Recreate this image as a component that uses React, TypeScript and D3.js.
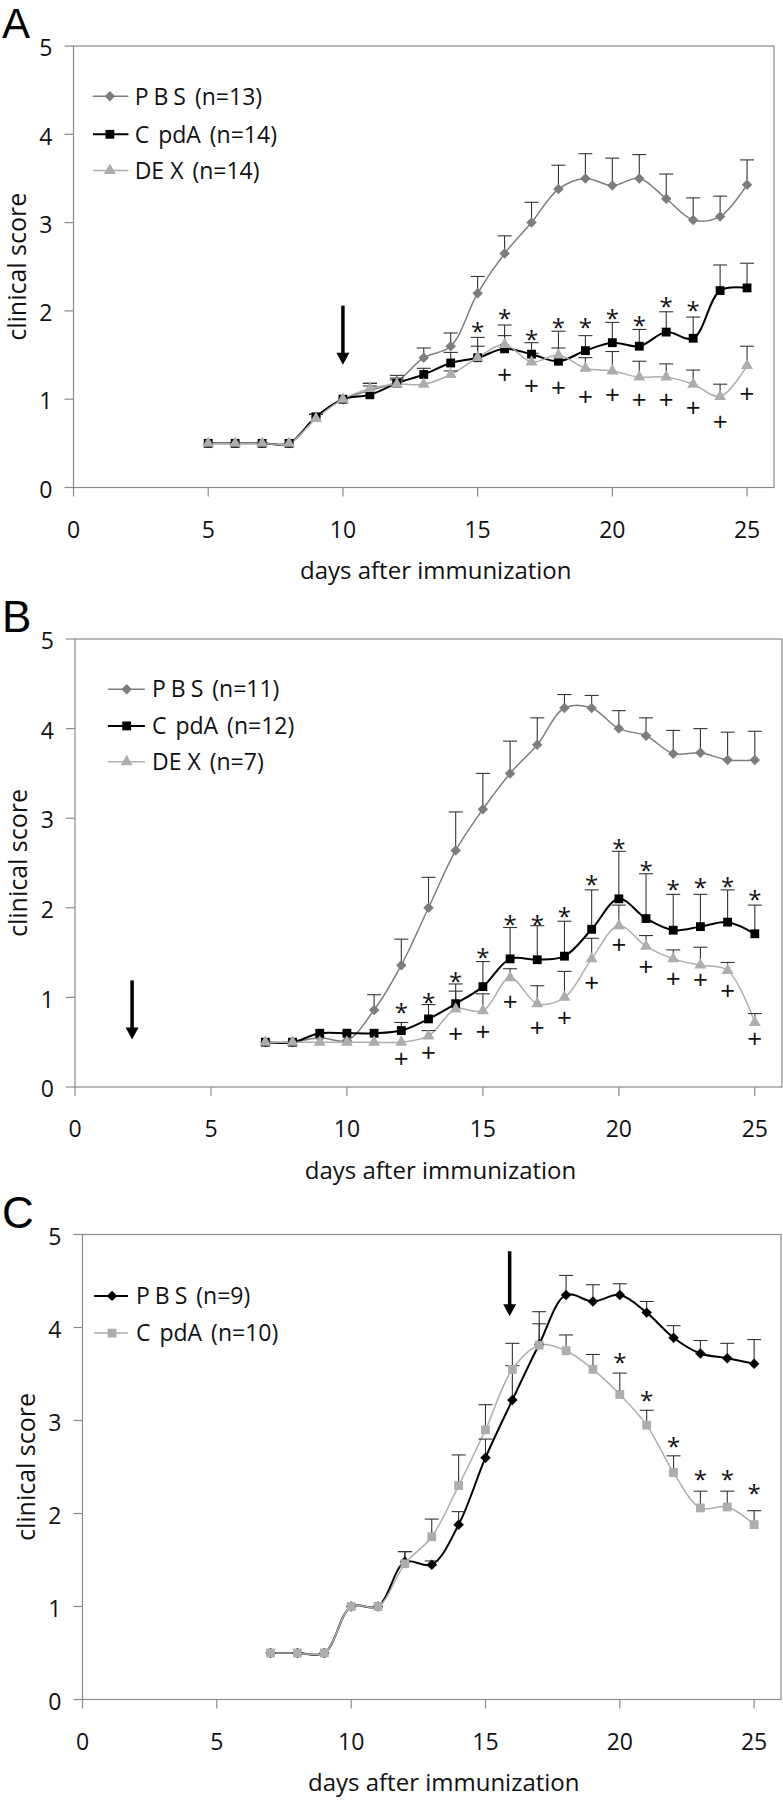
import React from 'react';
import * as d3 from 'd3';

// ---------------- DATA ----------------
const daysA = [5, 6, 7, 8, 9, 10, 11, 12, 13, 14, 15, 16, 17, 18, 19, 20, 21, 22, 23, 24, 25];
const pbsA = [0.5, 0.5, 0.5, 0.5, 0.8, 1.0, 1.1, 1.2, 1.47, 1.6, 2.2, 2.65, 3.0, 3.38, 3.5, 3.42, 3.5, 3.27, 3.03, 3.07, 3.43];
const pbsAErr = [0, 0, 0, 0, 0.03, 0, 0.08, 0.07, 0.11, 0.15, 0.19, 0.2, 0.23, 0.27, 0.28, 0.31, 0.27, 0.28, 0.25, 0.23, 0.28];
const cpdaA = [0.5, 0.5, 0.5, 0.5, 0.8, 1.0, 1.05, 1.18, 1.28, 1.41, 1.47, 1.57, 1.51, 1.43, 1.55, 1.64, 1.6, 1.76, 1.69, 2.23, 2.26];
const cpdaAErr = [0, 0, 0, 0, 0.03, 0, 0.1, 0.06, 0.07, 0.12, 0.23, 0.27, 0.13, 0.34, 0.17, 0.23, 0.19, 0.23, 0.24, 0.29, 0.28];
const dexA = [0.5, 0.5, 0.5, 0.5, 0.78, 1.0, 1.12, 1.17, 1.17, 1.28, 1.47, 1.62, 1.42, 1.5, 1.35, 1.32, 1.25, 1.25, 1.17, 1.03, 1.38];
const dexAErr = [0, 0, 0, 0, 0, 0, 0.06, 0.05, 0, 0.04, 0.13, 0.1, 0.1, 0.08, 0.12, 0.22, 0.18, 0.15, 0.16, 0.14, 0.22];
const starDaysA = [15, 16, 17, 18, 19, 20, 21, 22, 23];
const starYA = [1.82, 1.97, 1.73, 1.86, 1.86, 1.97, 1.89, 2.1, 2.06];
const plusDaysA = [16, 17, 18, 19, 20, 21, 22, 23, 24, 25];
const plusYA = [1.28, 1.15, 1.13, 1.03, 1.05, 1.0, 1.0, 0.91, 0.75, 1.06];

const daysB = [7, 8, 9, 10, 11, 12, 13, 14, 15, 16, 17, 18, 19, 20, 21, 22, 23, 24, 25];
const pbsB = [0.5, 0.5, 0.55, 0.52, 0.86, 1.36, 2.0, 2.64, 3.1, 3.5, 3.82, 4.23, 4.23, 4.0, 3.92, 3.72, 3.73, 3.65, 3.65];
const pbsBErr = [0, 0, 0, 0, 0.17, 0.29, 0.34, 0.43, 0.4, 0.36, 0.3, 0.15, 0.14, 0.2, 0.2, 0.26, 0.27, 0.31, 0.32];
const cpdaB = [0.5, 0.5, 0.6, 0.6, 0.6, 0.63, 0.76, 0.93, 1.12, 1.43, 1.42, 1.46, 1.76, 2.1, 1.88, 1.75, 1.79, 1.84, 1.71];
const cpdaBErr = [0, 0, 0, 0, 0, 0.09, 0.16, 0.22, 0.28, 0.35, 0.38, 0.39, 0.44, 0.53, 0.5, 0.4, 0.36, 0.36, 0.32];
const dexB = [0.5, 0.5, 0.5, 0.5, 0.5, 0.5, 0.57, 0.87, 0.85, 1.22, 0.93, 1.0, 1.43, 1.8, 1.57, 1.43, 1.36, 1.3, 0.72];
const dexBErr = [0, 0, 0, 0, 0, 0, 0.06, 0.2, 0.19, 0.1, 0.2, 0.29, 0.23, 0.23, 0.12, 0.1, 0.2, 0.09, 0.1];
const starDaysB = [12, 13, 14, 15, 16, 17, 18, 19, 20, 21, 22, 23, 24, 25];
const starYB = [0.88, 0.99, 1.23, 1.5, 1.87, 1.87, 1.96, 2.31, 2.71, 2.47, 2.26, 2.28, 2.29, 2.14];
const plusDaysB = [12, 13, 14, 15, 16, 17, 18, 19, 20, 21, 22, 23, 24, 25];
const plusYB = [0.32, 0.38, 0.59, 0.62, 0.95, 0.66, 0.77, 1.16, 1.59, 1.34, 1.21, 1.2, 1.07, 0.54];

const daysC = [7, 8, 9, 10, 11, 12, 13, 14, 15, 16, 17, 18, 19, 20, 21, 22, 23, 24, 25];
const pbsC = [0.5, 0.5, 0.5, 1.0, 1.0, 1.48, 1.45, 1.88, 2.6, 3.22, 3.82, 4.35, 4.28, 4.35, 4.16, 3.89, 3.72, 3.67, 3.61];
const pbsCErr = [0, 0, 0, 0, 0, 0.11, 0.04, 0.14, 0.2, 0.37, 0.22, 0.21, 0.18, 0.12, 0.12, 0.13, 0.14, 0.16, 0.26];
const cpdaC = [0.5, 0.5, 0.5, 1.0, 1.0, 1.46, 1.75, 2.3, 2.9, 3.55, 3.81, 3.75, 3.55, 3.28, 2.95, 2.44, 2.06, 2.07, 1.88];
const cpdaCErr = [0, 0, 0, 0, 0, 0.13, 0.19, 0.33, 0.27, 0.28, 0.36, 0.17, 0.16, 0.23, 0.16, 0.18, 0.18, 0.17, 0.15];
const starDaysC = [20, 21, 22, 23, 24, 25];
const starYC = [3.67, 3.27, 2.77, 2.42, 2.42, 2.27];

const xTicks = [0, 5, 10, 15, 20, 25];
const yTicks = [0, 1, 2, 3, 4, 5];
const xTitle = 'days after immunization';
const yTitle = 'clinical score';

// legend labels split into pieces (the original shows loose letter spacing in the group names)
const lblPbsA = ['P', 'B', 'S', ' (n=13)'];
const lblCpdaA = ['C', 'pdA', ' (n=14)'];
const lblDexA = ['DE', 'X', ' (n=14)'];
const lblPbsB = ['P', 'B', 'S', ' (n=11)'];
const lblCpdaB = ['C', 'pdA', ' (n=12)'];
const lblDexB = ['DE', 'X', ' (n=7)'];
const lblPbsC = ['P', 'B', 'S', ' (n=9)'];
const lblCpdaC = ['C', 'pdA', ' (n=10)'];

// ---------------- STYLE ----------------
const FONT = "'Open Sans', 'DejaVu Sans', sans-serif";
const LETTER_FONT = "'Liberation Sans', Arial, sans-serif";
const GRAY_DARK = '#7d7d7d';
const GRAY_LIGHT = '#adadad';
const BLACK = '#000000';
const FRAME = '#8a8a8a';
const GAP_PBS = [0, 5, 5, 3];
const GAP_CPDA = [0, 9, 3];
const GAP_DEX = [0, 6, 3];

// square rotated 45 degrees (equal width/height, as in the original)
const symbolRhomb: d3.SymbolType = {
  draw(ctx, size) {
    const r = Math.sqrt(size) / 2;
    ctx.moveTo(0, -r);
    ctx.lineTo(r, 0);
    ctx.lineTo(0, r);
    ctx.lineTo(-r, 0);
    ctx.closePath();
  },
};

type Series = {
  label: string[];
  gaps: number[];
  days: number[];
  mean: number[];
  err: number[];
  color: string;
  symbol: d3.SymbolType;
  size: number;
  width: number;
};

type PanelCfg = {
  letter: string;
  left: number;
  right: number;
  top: number;
  bottom: number;
  letterY: number;
  letterSize: number;
  titleDx: number;
  series: Series[];
  stars: { days: number[]; ys: number[] };
  plus: { days: number[]; ys: number[] };
  arrow: { day: number; from: number; to: number };
  legend: { lineFrom: number; lineTo: number; marker: number; text: number; rows: number[] };
};

const panels: PanelCfg[] = [
  {
    letter: 'A', left: 73.5, right: 774, top: 46, bottom: 487.5, letterY: 38, letterSize: 42, titleDx: 12,
    series: [
      { label: lblPbsA, gaps: GAP_PBS, days: daysA, mean: pbsA, err: pbsAErr, color: GRAY_DARK, symbol: symbolRhomb, size: 110, width: 1.5 },
      { label: lblCpdaA, gaps: GAP_CPDA, days: daysA, mean: cpdaA, err: cpdaAErr, color: BLACK, symbol: d3.symbolSquare, size: 78, width: 2 },
      { label: lblDexA, gaps: GAP_DEX, days: daysA, mean: dexA, err: dexAErr, color: GRAY_LIGHT, symbol: d3.symbolTriangle, size: 62, width: 1.5 },
    ],
    stars: { days: starDaysA, ys: starYA },
    plus: { days: plusDaysA, ys: plusYA },
    arrow: { day: 10, from: 2.06, to: 1.39 },
    legend: { lineFrom: 0.72, lineTo: 2.04, marker: 1.35, text: 2.27, rows: [4.43, 4.0, 3.59] },
  },
  {
    letter: 'B', left: 75, right: 782, top: 639, bottom: 1087, letterY: 632, letterSize: 44, titleDx: 12,
    series: [
      { label: lblPbsB, gaps: GAP_PBS, days: daysB, mean: pbsB, err: pbsBErr, color: GRAY_DARK, symbol: symbolRhomb, size: 110, width: 1.5 },
      { label: lblCpdaB, gaps: GAP_CPDA, days: daysB, mean: cpdaB, err: cpdaBErr, color: BLACK, symbol: d3.symbolSquare, size: 78, width: 2 },
      { label: lblDexB, gaps: GAP_DEX, days: daysB, mean: dexB, err: dexBErr, color: GRAY_LIGHT, symbol: d3.symbolTriangle, size: 62, width: 1.5 },
    ],
    stars: { days: starDaysB, ys: starYB },
    plus: { days: plusDaysB, ys: plusYB },
    arrow: { day: 2.1, from: 1.19, to: 0.53 },
    legend: { lineFrom: 1.21, lineTo: 2.57, marker: 1.9, text: 2.83, rows: [4.44, 4.03, 3.63] },
  },
  {
    letter: 'C', left: 82.5, right: 781, top: 1234.5, bottom: 1699.5, letterY: 1228, letterSize: 44, titleDx: 12,
    series: [
      { label: lblPbsC, gaps: GAP_PBS, days: daysC, mean: pbsC, err: pbsCErr, color: BLACK, symbol: symbolRhomb, size: 110, width: 2 },
      { label: lblCpdaC, gaps: GAP_CPDA, days: daysC, mean: cpdaC, err: cpdaCErr, color: GRAY_LIGHT, symbol: d3.symbolSquare, size: 78, width: 1.5 },
    ],
    stars: { days: starDaysC, ys: starYC },
    plus: { days: [], ys: [] },
    arrow: { day: 15.9, from: 4.82, to: 4.12 },
    legend: { lineFrom: 0.43, lineTo: 1.69, marker: 1.1, text: 1.99, rows: [4.34, 3.94] },
  },
];

function Panel({ p }: { p: PanelCfg }) {
  const x = d3.scaleLinear().domain([0, 26]).range([p.left, p.right]);
  const y = d3.scaleLinear().domain([0, 5]).range([p.bottom, p.top]);
  const curve = d3.line().curve(d3.curveCatmullRom.alpha(0.5));
  const midY = (p.top + p.bottom) / 2;
  const midX = (p.left + p.right) / 2;
  const headH = 12;
  const headW = 13;
  const ax = x(p.arrow.day);
  const ayEnd = y(p.arrow.to);
  return (
    <g>
      <text x={2} y={p.letterY} fontFamily={LETTER_FONT} fontSize={p.letterSize} fill="#000">{p.letter}</text>
      {/* frame */}
      <rect x={p.left} y={p.top} width={p.right - p.left} height={p.bottom - p.top} fill="none" stroke={FRAME} strokeWidth={1.2} />
      {/* y ticks */}
      {yTicks.map((t) => (
        <g key={'y' + t}>
          <line x1={p.left - 9} x2={p.left} y1={y(t)} y2={y(t)} stroke={FRAME} strokeWidth={1.2} />
          <text x={p.left - 21} y={y(t) + 2} dy="0.36em" textAnchor="end" fontFamily={FONT} fontSize={23} fill="#111">{t}</text>
        </g>
      ))}
      {/* x ticks */}
      {xTicks.map((t) => (
        <g key={'x' + t}>
          <line x1={x(t)} x2={x(t)} y1={p.bottom} y2={p.bottom + 9} stroke={FRAME} strokeWidth={1.2} />
          <text x={x(t)} y={p.bottom + 42} dy="0.36em" textAnchor="middle" fontFamily={FONT} fontSize={23} fill="#111">{t}</text>
        </g>
      ))}
      <text x={midX + p.titleDx} y={p.bottom + 83} dy="0.36em" textAnchor="middle" fontFamily={FONT} fontSize={24} fill="#111">{xTitle}</text>
      <text transform={`translate(${p.left - 57},${midY}) rotate(-90)`} dy="0.36em" textAnchor="middle" fontFamily={FONT} fontSize={25} fill="#111">{yTitle}</text>

      {/* series lines */}
      {p.series.map((s, si) => {
        const pts = s.days.map((d, i) => [x(d), y(s.mean[i])] as [number, number]);
        return <path key={'l' + si} d={curve(pts) || ''} fill="none" stroke={s.color} strokeWidth={s.width} />;
      })}
      {/* error bars (upper half only) */}
      {p.series.map((s, si) => (
        <g key={'e' + si}>
          {s.days.map((d, i) =>
            s.err[i] > 0 ? (
              <g key={i}>
                <line x1={x(d)} x2={x(d)} y1={y(s.mean[i])} y2={y(s.mean[i] + s.err[i])} stroke="#333" strokeWidth={1.1} />
                <line x1={x(d) - 7} x2={x(d) + 7} y1={y(s.mean[i] + s.err[i])} y2={y(s.mean[i] + s.err[i])} stroke="#333" strokeWidth={1.1} />
              </g>
            ) : null
          )}
        </g>
      ))}
      {/* markers */}
      {p.series.map((s, si) => {
        const sym = d3.symbol().type(s.symbol).size(s.size)() || '';
        return (
          <g key={'m' + si}>
            {s.days.map((d, i) => (
              <path key={i} d={sym} transform={`translate(${x(d)},${y(s.mean[i])})`} fill={s.color} />
            ))}
          </g>
        );
      })}
      {/* significance marks */}
      {p.stars.days.map((d, i) => (
        <text key={'s' + i} x={x(d)} y={y(p.stars.ys[i])} dy="0.55em" textAnchor="middle" fontFamily={FONT} fontSize={24} fill="#111">*</text>
      ))}
      {p.plus.days.map((d, i) => (
        <text key={'p' + i} x={x(d)} y={y(p.plus.ys[i])} dy="0.36em" textAnchor="middle" fontFamily={FONT} fontSize={26} fill="#111">+</text>
      ))}
      {/* treatment arrow */}
      <line x1={ax} x2={ax} y1={y(p.arrow.from)} y2={ayEnd - headH + 2} stroke="#000" strokeWidth={3.5} />
      <path d={`M${ax - headW / 2},${ayEnd - headH} L${ax + headW / 2},${ayEnd - headH} L${ax},${ayEnd} Z`} fill="#000" />
      {/* legend */}
      {p.series.map((s, si) => {
        const ly = y(p.legend.rows[si]);
        const sym = d3.symbol().type(s.symbol).size(s.size)() || '';
        return (
          <g key={'lg' + si}>
            <line x1={x(p.legend.lineFrom)} x2={x(p.legend.lineTo)} y1={ly} y2={ly} stroke={s.color} strokeWidth={s.width} />
            <path d={sym} transform={`translate(${x(p.legend.marker)},${ly})`} fill={s.color} />
            <text x={x(p.legend.text)} y={ly} dy="0.36em" fontFamily={FONT} fontSize={23} fill="#111" style={{ whiteSpace: 'pre' }}>
              {s.label.map((part, k) => (
                <tspan key={k} dx={s.gaps[k] || 0}>{part}</tspan>
              ))}
            </text>
          </g>
        );
      })}
    </g>
  );
}

export default function App() {
  return (
    <svg
      width={783}
      height={1800}
      viewBox="0 0 783 1800"
      style={{ position: 'absolute', left: 0, top: 0, background: '#fff' }}
    >
      <rect x={0} y={0} width={783} height={1800} fill="#fff" />
      {panels.map((p) => (
        <Panel key={p.letter} p={p} />
      ))}
    </svg>
  );
}
